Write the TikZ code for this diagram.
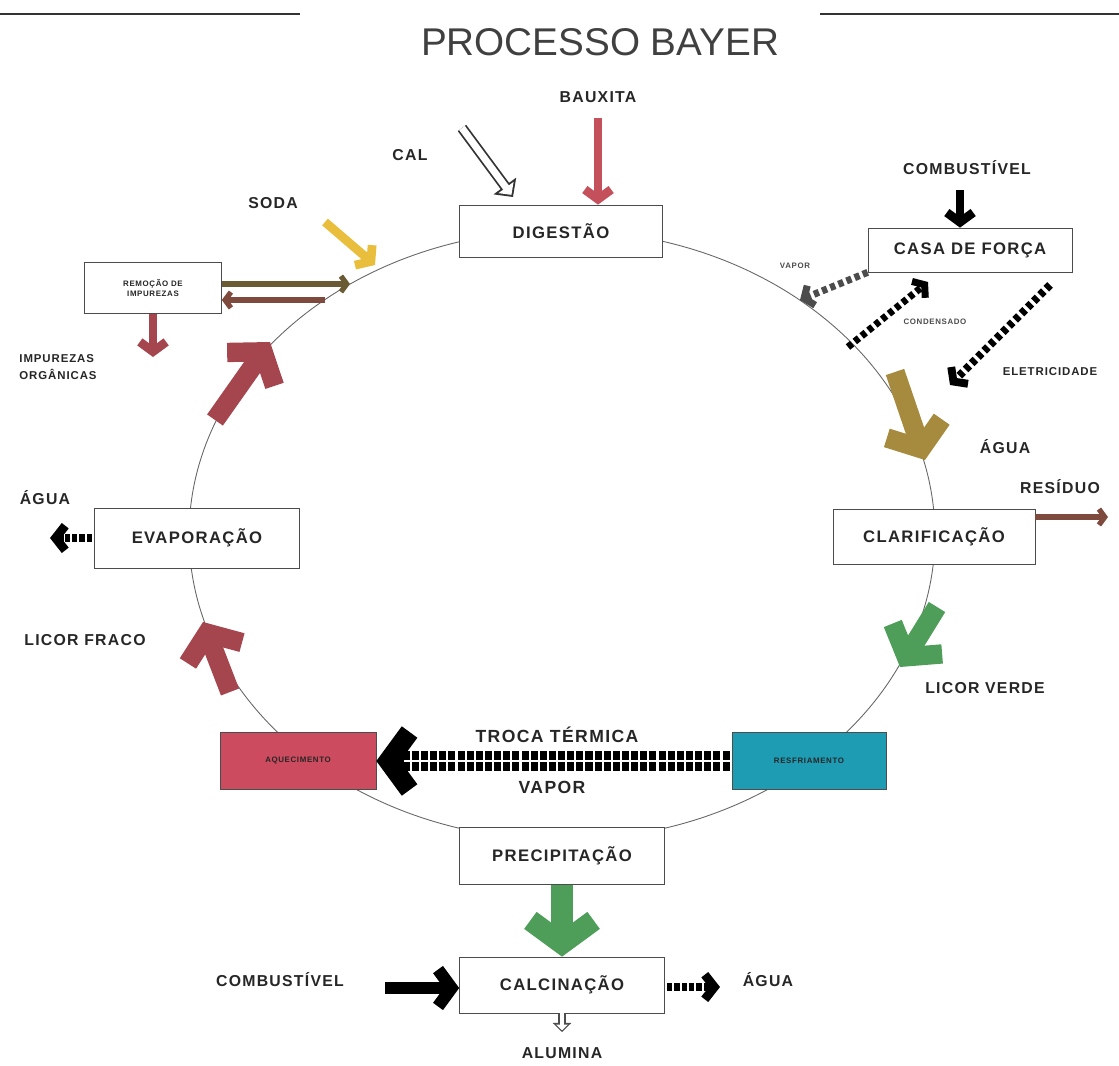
\documentclass[tikz,border=0pt]{standalone}
\usepackage{fontspec}
\setmainfont{Liberation Sans}
\newfontfamily\espacada[LetterSpace=8]{Liberation Sans}
\usetikzlibrary{arrows.meta}

\definecolor{vermelho}{HTML}{C4505C}
\definecolor{vinho}{HTML}{A5464F}
\definecolor{oliva}{HTML}{A68B3E}
\definecolor{verde}{HTML}{4E9E5A}
\definecolor{amarelo}{HTML}{E9BE3C}
\definecolor{marrom}{HTML}{7E4A3E}
\definecolor{musgo}{HTML}{6B5B35}
\definecolor{caixavermelha}{HTML}{CD4B5E}
\definecolor{caixaazul}{HTML}{1E9CB4}

\tikzset{
  etapa/.style={draw=black!70, fill=white, inner sep=0pt, align=center,
    font=\espacada\bfseries\fontsize{9.5}{11}\selectfont, text=black!85},
  rotulo/.style={font=\espacada\bfseries\fontsize{9}{11}\selectfont, text=black!85},
  miudo/.style={font=\espacada\bfseries\fontsize{4.5}{5.5}\selectfont, text=black!70},
  seta/.style={line width=#1, -{Straight Barb[length=0pt 1.1, width=0pt 3]}},
  tracejada/.style={line width=#1, dash pattern=on 3pt off 2pt,
    -{Straight Barb[length=0pt 1.1, width=0pt 3]}},
  contorno/.style={line width=#1, -{Triangle[length=0pt 1.3, width=0pt 2.6]}},
}

\begin{document}
\begin{tikzpicture}[x=0.02cm, y=-0.02cm]
    \useasboundingbox (0,0) rectangle (1119,1065);
    \draw[line width=1.2pt, black!80] (0,14) -- (300,14);
    \draw[line width=1.2pt, black!80] (820,14) -- (1119,14);
    \node[font=\fontsize{22}{26}\selectfont, text=black!75] (titulo) at (600,42) {PROCESSO BAYER};

    \draw[black!60, line width=0.5pt] (562,535) ellipse [x radius=7.46cm, y radius=6.1cm];

    \node[etapa, minimum width=4.06cm, minimum height=1.04cm] (dig) at (561,231) {DIGESTÃO};
    \node[etapa, minimum width=4.08cm, minimum height=0.88cm] (casa) at (970,250) {CASA DE FORÇA};
    \node[etapa, minimum width=2.74cm, minimum height=1.02cm,
          font=\espacada\bfseries\fontsize{4.5}{6}\selectfont] (remo) at (153,288) {REMOÇÃO DE\\IMPUREZAS};
    \node[etapa, minimum width=4.1cm, minimum height=1.2cm] (evap) at (197,538) {EVAPORAÇÃO};
    \node[etapa, minimum width=4.04cm, minimum height=1.1cm] (clar) at (934,537) {CLARIFICAÇÃO};
    \node[etapa, fill=caixavermelha, minimum width=3.12cm, minimum height=1.14cm,
          font=\espacada\bfseries\fontsize{4.5}{6}\selectfont] (aquec) at (298,761) {AQUECIMENTO};
    \node[etapa, fill=caixaazul, minimum width=3.08cm, minimum height=1.14cm,
          font=\espacada\bfseries\fontsize{4.5}{6}\selectfont] (resf) at (809,761) {RESFRIAMENTO};
    \node[etapa, minimum width=4.1cm, minimum height=1.14cm] (prec) at (562,856) {PRECIPITAÇÃO};
    \node[etapa, minimum width=4.1cm, minimum height=1.12cm] (calc) at (562,985) {CALCINAÇÃO};

    \node[rotulo] (lbaux) at (598,97) {BAUXITA};
    \node[rotulo] (lcal) at (410,155) {CAL};
    \node[rotulo] (lsoda) at (273,203) {SODA};
    \node[rotulo] (lcomb1) at (967,168) {COMBUSTÍVEL};
    \node[miudo] (lvapor1) at (795,266) {VAPOR};
    \node[miudo] (lcond) at (935,322) {CONDENSADO};
    \node[rotulo, font=\espacada\bfseries\fontsize{6.5}{8}\selectfont] (lelet) at (1050,372) {ELETRICIDADE};
    \node[rotulo] (lagua1) at (1005,447) {ÁGUA};
    \node[rotulo] (lresid) at (1060,487) {RESÍDUO};
    \node[rotulo] (lverde) at (985,688) {LICOR VERDE};
    \node[rotulo, font=\espacada\bfseries\fontsize{10}{12}\selectfont] (ltroca) at (557,735) {TROCA TÉRMICA};
    \node[rotulo, font=\espacada\bfseries\fontsize{10}{12}\selectfont] (lvapor2) at (552,787) {VAPOR};
    \node[rotulo] (lcomb2) at (280,980) {COMBUSTÍVEL};
    \node[rotulo] (lagua2) at (768,980) {ÁGUA};
    \node[rotulo] (lalum) at (562,1053) {ALUMINA};
    \node[rotulo] (lfraco) at (85,640) {LICOR FRACO};
    \node[rotulo] (lagua3) at (45,498) {ÁGUA};
    \node[rotulo, align=left, font=\espacada\bfseries\fontsize{6.5}{10}\selectfont] (limpur) at (58,367) {IMPUREZAS\\ORGÂNICAS};

    \coordinate (cbaux) at (598,118);
    \coordinate (ccal) at (462,128);
    \coordinate (ccal2) at (513,197);
    \coordinate (csoda) at (325,222);
    \coordinate (csoda2) at (375,265);
    \coordinate (ccomb1) at (960,190);
    \coordinate (cvapor) at (800,300);
    \coordinate (ccond) at (848,347);
    \coordinate (ccond2) at (928,282);
    \coordinate (celet) at (1050,285);
    \coordinate (celet2) at (950,385);
    \coordinate (coliva) at (895,372);
    \coordinate (coliva2) at (925,460);
    \coordinate (cresid) at (1108,517);
    \coordinate (cverde) at (937,607);
    \coordinate (cverde2) at (900,667);
    \coordinate (ccomb2) at (385,988);
    \coordinate (cagua2) at (720,987);
    \coordinate (calum) at (562,1032);
    \coordinate (cfraco) at (230,692);
    \coordinate (cfraco2) at (203,622);
    \coordinate (cvinho) at (215,420);
    \coordinate (cvinho2) at (270,342);
    \coordinate (cagua3) at (50,538);
    \coordinate (cimpur) at (153,357);
    \coordinate (cida) at (350,284);
    \coordinate (cvolta) at (325,300);

    \draw[seta=5pt, vermelho] (cbaux) -- (cbaux |- dig.north);
    \draw[contorno=6pt, black!80] (ccal) -- (ccal2);
    \draw[contorno=4pt, white, shorten >=1.5pt] (ccal) -- (ccal2);
    \draw[seta=5pt, amarelo] (csoda) -- (csoda2);
    \draw[seta=5pt, black] (ccomb1) -- (ccomb1 |- casa.north);
    \draw[tracejada=4pt, black!70] (casa.south west) -- (cvapor);
    \draw[tracejada=4pt, black] (ccond) -- (ccond2);
    \draw[tracejada=4.5pt, black] (celet) -- (celet2);
    \draw[seta=11pt, oliva] (coliva) -- (coliva2);
    \draw[seta=3pt, marrom] (clar.east |- 0,517) -- (cresid);
    \draw[seta=11pt, verde] (cverde) -- (cverde2);

    \draw[line width=11pt, -{Straight Barb[length=0pt 1.1, width=0pt 3]}] (resf.west) -- (aquec.east);
    \draw[white, line width=1.2pt, shorten >=16pt] (resf.west) -- (aquec.east);
    \draw[white, line width=11pt, dash pattern=on 1.2pt off 4pt, shorten >=16pt] (resf.west) -- (aquec.east);

    \draw[seta=12pt, verde] (prec.south) -- (calc.north);
    \draw[seta=7pt, black] (ccomb2) -- (calc.west |- ccomb2);
    \draw[line width=5pt, -{Straight Barb[length=0pt 1.1, width=0pt 2.8]}] (calc.east |- cagua2) -- (cagua2);
    \draw[white, line width=5pt, dash pattern=on 1.2pt off 3pt, shorten >=8pt] (calc.east |- cagua2) -- (cagua2);
    \draw[contorno=4pt, black!70] (calc.south) -- (calum);
    \draw[contorno=2.5pt, white, shorten >=1pt] (calc.south) -- (calum);

    \draw[seta=11pt, vinho] (cfraco) -- (cfraco2);
    \draw[seta=11pt, vinho] (cvinho) -- (cvinho2);
    \draw[line width=5pt, -{Straight Barb[length=0pt 1.1, width=0pt 2.8]}] (evap.west) -- (cagua3);
    \draw[white, line width=5pt, dash pattern=on 1.2pt off 3pt, shorten >=8pt] (evap.west) -- (cagua3);
    \draw[seta=5pt, vinho] (remo.south) -- (cimpur);
    \draw[seta=3pt, musgo] (remo.east |- cida) -- (cida);
    \draw[seta=3pt, marrom] (cvolta) -- (remo.east |- cvolta);
\end{tikzpicture}
\end{document}
